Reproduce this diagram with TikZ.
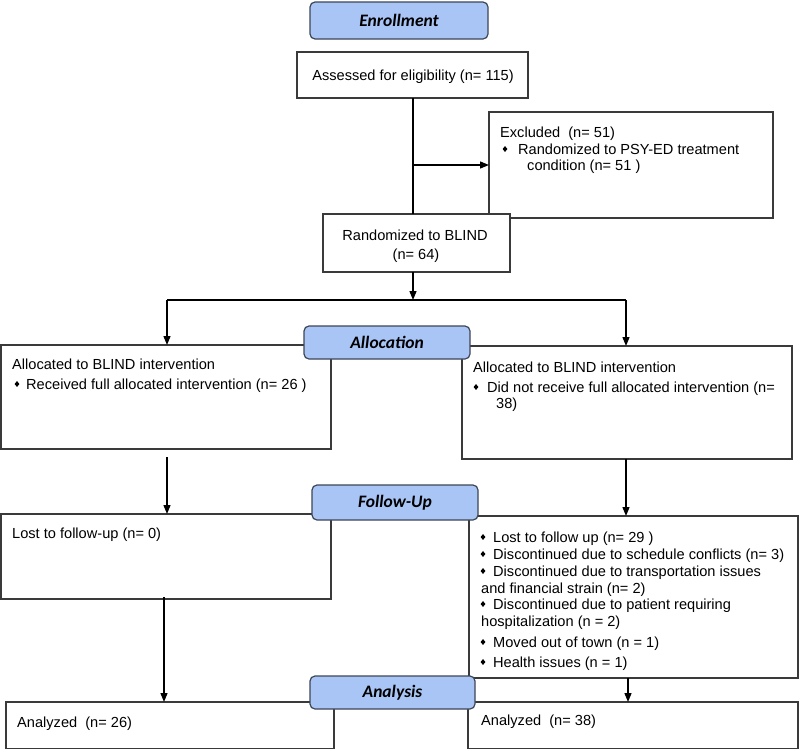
\documentclass[tikz,border=0pt]{standalone}
\usepackage{fontspec}
\setmainfont{Liberation Sans}
\newfontfamily\hdrfont{Carlito}
\usetikzlibrary{arrows.meta,shapes.geometric}
\definecolor{hdrfill}{HTML}{A8C5F5}
\definecolor{hdrline}{HTML}{3E4656}
\definecolor{boxline}{HTML}{3A3A3A}
\begin{document}
\begin{tikzpicture}[x=1pt,y=-1pt,
  box/.style={draw=boxline, fill=white, line width=1.4pt, anchor=north west, inner sep=0pt, outer sep=0pt},
  hdr/.style={draw=hdrline, fill=hdrfill, line width=1.2pt, rounded corners=5pt, anchor=north west, inner sep=0pt, outer sep=0pt, font=\hdrfont\bfseries\itshape\fontsize{17.5}{20}\selectfont},
  txt/.style={anchor=base west, inner sep=0pt, font=\fontsize{14.6}{17}\selectfont},
  ctxt/.style={anchor=base, inner sep=0pt, font=\fontsize{14.6}{17}\selectfont},
  bul/.style={diamond, fill=black, inner sep=0pt, minimum width=5pt, minimum height=6pt},
  arr/.style={line width=1.3pt, -{Triangle[length=9pt,width=7pt]}},
  ln/.style={line width=1.3pt}]
\useasboundingbox (0,0) rectangle (800,750);
% boxes
\node[box, minimum width=231pt, minimum height=46pt] (assess) at (297,52) {};
\node[box, minimum width=284pt, minimum height=106pt] (excl) at (489,112) {};
\node[box, minimum width=187pt, minimum height=58pt] (rand) at (323,214) {};
\node[box, minimum width=330pt, minimum height=104pt] (lalloc) at (1,345) {};
\node[box, minimum width=330pt, minimum height=113pt] (ralloc) at (462,346) {};
\node[box, minimum width=330pt, minimum height=85pt] (lfollow) at (1,514) {};
\node[box, minimum width=329pt, minimum height=162pt] (rfollow) at (469,516) {};
\node[box, minimum width=328pt, minimum height=46.5pt] (lanal) at (6,702) {};
\node[box, minimum width=330pt, minimum height=46.5pt] (ranal) at (468,702) {};
% helper coordinates
\coordinate (sp) at (413,300);
\coordinate (spL) at (167,300);
\coordinate (spR) at (626,300);
\coordinate (cL1) at (167,457);
\coordinate (cL2) at (164,597);
\coordinate (xR3) at (628,0);
% connectors
\draw[ln] (assess.south -| sp) -- (rand.north -| sp);
\draw[arr] (excl.west -| sp) -- (excl.west);
\draw[arr] (rand.south -| sp) -- (sp);
\draw[ln] (spL) -- (spR);
\draw[arr] (spL) -- (spL |- lalloc.north);
\draw[arr] (spR) -- (spR |- ralloc.north);
\draw[arr] (cL1) -- (cL1 |- lfollow.north);
\draw[arr] (spR |- ralloc.south) -- (spR |- rfollow.north);
\draw[arr] (cL2) -- (cL2 |- lanal.north);
\draw[arr] (xR3 |- rfollow.south) -- (xR3 |- ranal.north);
% headers
\node[hdr, minimum width=178pt, minimum height=37pt] (enroll) at (310,2) {Enrollment};
\node[hdr, minimum width=166pt, minimum height=33pt] (allochdr) at (304,326) {Allocation};
\node[hdr, minimum width=166pt, minimum height=35pt] (followhdr) at (312,485) {Follow-Up};
\node[hdr, minimum width=165pt, minimum height=33pt] (analhdr) at (310,676) {Analysis};
% texts
\node[ctxt] (t1) at (413,80) {Assessed for eligibility (n= 115)};
\node[txt] (t2) at (500,137) {Excluded\ \ (n= 51)};
\node[bul] (b2) at (505,149) {};
\node[txt] (t3) at (518,154) {Randomized to PSY-ED treatment};
\node[txt] (t4) at (527,170) {condition (n= 51 )};
\node[ctxt] (t5) at (415,240) {Randomized to BLIND};
\node[ctxt] (t6) at (416,259) {(n= 64)};
\node[txt] (t7) at (12,369) {Allocated to BLIND intervention};
\node[bul] (b7) at (17,384) {};
\node[txt] (t8) at (26,389) {Received full allocated intervention (n= 26 )};
\node[txt] (t9) at (473,372) {Allocated to BLIND intervention};
\node[bul] (b9) at (476,387) {};
\node[txt] (t10) at (487,392) {Did not receive full allocated intervention (n=};
\node[txt] (t11) at (496,408) {38)};
\node[txt] (t12) at (12,538) {Lost to follow-up (n= 0)};
\node[bul] (b13) at (483,537) {};
\node[txt] (t13) at (493,542) {Lost to follow up (n= 29 )};
\node[bul] (b14) at (483,554) {};
\node[txt] (t14) at (493,559) {Discontinued due to schedule conflicts (n= 3)};
\node[bul] (b15) at (483,571) {};
\node[txt] (t15) at (493,576) {Discontinued due to transportation issues};
\node[txt] (t16) at (481,593) {and financial strain (n= 2)};
\node[bul] (b17) at (483,604) {};
\node[txt] (t17) at (493,609) {Discontinued due to patient requiring};
\node[txt] (t18) at (481,626) {hospitalization (n = 2)};
\node[bul] (b19) at (483,642) {};
\node[txt] (t19) at (493,647) {Moved out of town (n = 1)};
\node[bul] (b20) at (483,662) {};
\node[txt] (t20) at (493,667) {Health issues (n = 1)};
\node[txt] (t21) at (17,727) {Analyzed\ \ (n= 26)};
\node[txt] (t22) at (481,725) {Analyzed\ \ (n= 38)};
\end{tikzpicture}
\end{document}
